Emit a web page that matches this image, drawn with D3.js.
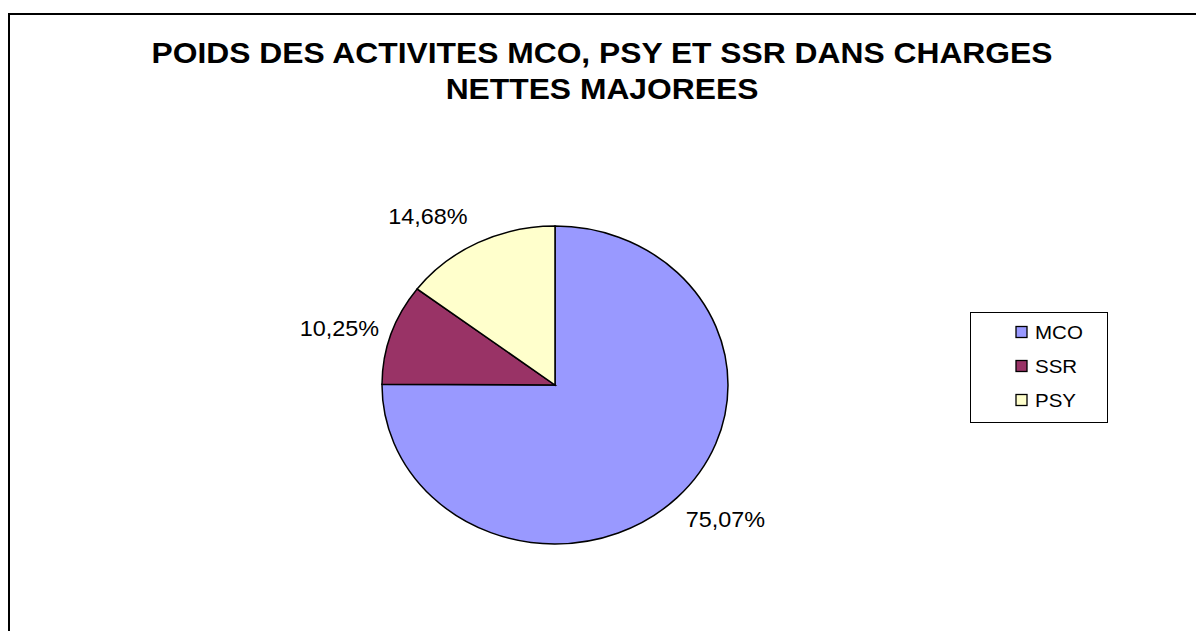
<!DOCTYPE html>
<html><head><meta charset="utf-8">
<script src="https://cdn.jsdelivr.net/npm/d3@7"></script>
<style>html,body{margin:0;padding:0;background:#fff;}svg{display:block;}</style>
</head><body>
<svg id="c" width="1196" height="631"></svg>
<script>
const categories = ["MCO", "SSR", "PSY"];
const values = [75.07, 10.25, 14.68];
const colors = ["#9999FF", "#993366", "#FFFFCC"];
const titleLines = ["POIDS DES ACTIVITES MCO, PSY ET SSR DANS CHARGES", "NETTES MAJOREES"];

const svg = d3.select("#c");
const font = "'Liberation Sans', Arial, sans-serif";

svg.append("rect").attr("x", 9).attr("y", 14).attr("width", 1300).attr("height", 700)
  .attr("fill", "#fff").attr("stroke", "#000").attr("stroke-width", 2);

svg.append("g").selectAll("text").data(titleLines).join("text")
  .attr("transform", (d, i) => `translate(602,${63 + i * 36}) scale(1.06,1)`)
  .attr("text-anchor", "middle").attr("font-family", font)
  .attr("font-weight", "bold").attr("font-size", 30).text(d => d);

const cx = 555, cy = 385, rx = 173, ry = 159;
const data = categories.map((c, i) => ({ cat: c, value: values[i], color: colors[i] }));
const pie = d3.pie().value(d => d.value).sort(null);
const arcs = pie(data);
const arc = d3.arc().innerRadius(0).outerRadius(ry);

const g = svg.append("g").attr("transform", `translate(${cx},${cy}) scale(${rx / ry},1)`);
g.selectAll("path").data(arcs).join("path")
  .attr("d", arc).attr("fill", d => d.data.color)
  .attr("stroke", "#000").attr("stroke-width", 1.5)
  .attr("vector-effect", "non-scaling-stroke");

const fmt = v => d3.format(".2f")(v).replace(".", ",") + "%";
const labelPos = [[725.5, 527], [339.5, 336], [428, 224]];
svg.append("g").selectAll("text").data(arcs).join("text")
  .attr("transform", (d, i) => `translate(${labelPos[i][0]},${labelPos[i][1]}) scale(1.04,1)`)
  .attr("text-anchor", "middle").attr("font-family", font).attr("font-size", 22.5)
  .attr("fill", "#000").text(d => fmt(d.data.value));

const lg = svg.append("g");
lg.append("rect").attr("x", 970.5).attr("y", 312.5).attr("width", 137).attr("height", 110)
  .attr("fill", "#fff").attr("stroke", "#000").attr("stroke-width", 1);
const items = lg.selectAll("g.it").data(data).join("g").attr("class", "it")
  .attr("transform", (d, i) => `translate(1015,${332 + i * 34})`);
items.append("rect").attr("x", 1).attr("y", -5.5).attr("width", 11).attr("height", 11)
  .attr("fill", d => d.color).attr("stroke", "#000").attr("stroke-width", 1.3);
items.append("text").attr("transform", "translate(20,7) scale(1.08,1)")
  .attr("font-family", font).attr("font-size", 19)
  .text(d => d.cat);
</script>
</body></html>
